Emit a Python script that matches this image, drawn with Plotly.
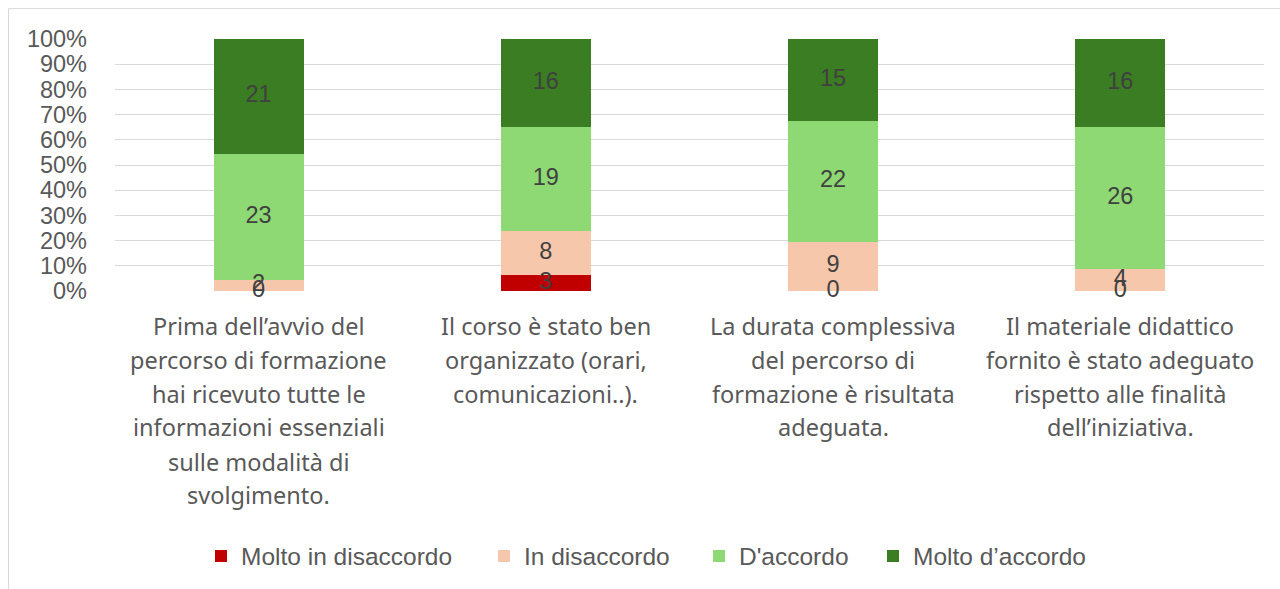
import numpy as np
import plotly.graph_objects as go

# Survey answers per question (counts of respondents)
categories = [
    "Prima dell’avvio del percorso di formazione hai ricevuto tutte le informazioni essenziali sulle modalità di svolgimento.",
    "Il corso è stato ben organizzato (orari, comunicazioni..).",
    "La durata complessiva del percorso di formazione è risultata adeguata.",
    "Il materiale didattico fornito è stato adeguato rispetto alle finalità dell’iniziativa.",
]
category_lines = [
    ["Prima dell’avvio del", "percorso di formazione", "hai ricevuto tutte le",
     "informazioni essenziali", "sulle modalità di", "svolgimento."],
    ["Il corso è stato ben", "organizzato (orari,", "comunicazioni..)."],
    ["La durata complessiva", "del percorso di", "formazione è risultata", "adeguata."],
    ["Il materiale didattico", "fornito è stato adeguato", "rispetto alle finalità",
     "dell’iniziativa."],
]
series_names = ["Molto in disaccordo", "In disaccordo", "D'accordo", "Molto d’accordo"]
molto_disaccordo = [0, 3, 0, 0]
disaccordo = [2, 8, 9, 4]
accordo = [23, 19, 22, 26]
molto_accordo = [21, 16, 15, 16]
y_ticks = list(range(0, 101, 10))
y_tick_labels = [f"{v}%" for v in y_ticks]

colors = ["#C00000", "#F7C7AC", "#8ED973", "#3A7D22"]
series = [molto_disaccordo, disaccordo, accordo, molto_accordo]

# Figure geometry (pixels)
W, H = 1280, 589
PL, PR, PT, PB = 115, 1264, 39, 292
plot_h = PB - PT
plot_w = PR - PL

def py(p):
    """pixel row -> paper y"""
    return (PB - p) / plot_h

def px(p):
    """pixel column -> paper x"""
    return (p - PL) / plot_w

fig = go.Figure()

legend_ids = ["legend", "legend2", "legend3", "legend4"]
for name, vals, col, lg in zip(series_names, series, colors, legend_ids):
    fig.add_trace(go.Bar(
        x=categories, y=vals, name=name, marker=dict(color=col, line=dict(width=0)),
        legend=lg, hoverinfo="x+y+name",
    ))

# Segment labels at the middle of each stacked segment
data = np.array(series, dtype=float)
totals = data.sum(axis=0)
pct = data / totals * 100
bottoms = np.cumsum(pct, axis=0) - pct
mids = bottoms + pct / 2
for i in range(len(series)):
    fig.add_trace(go.Scatter(
        x=categories, y=mids[i], mode="text",
        text=[str(v) for v in series[i]],
        textfont=dict(family="Liberation Sans, Arial, sans-serif", size=23.5, color="#404040"),
        showlegend=False, hoverinfo="skip", cliponaxis=False,
    ))

fig.update_layout(
    width=W, height=H,
    margin=dict(l=PL, r=W - PR, t=PT, b=H - PB),
    barmode="stack", barnorm="percent", bargap=0.687,
    plot_bgcolor="white", paper_bgcolor="white",
    showlegend=True,
    xaxis=dict(showticklabels=False, showgrid=False, zeroline=False, showline=False,
               ticks=""),
    yaxis=dict(range=[0, 100], tickmode="array", tickvals=y_ticks, ticktext=y_tick_labels,
               showgrid=True, gridcolor="#D9D9D9", gridwidth=1, zeroline=False,
               showline=False, ticks="", ticklabelstandoff=27,
               tickfont=dict(family="Liberation Sans, Arial, sans-serif", size=23.5,
                             color="#595959")),
)

# Category labels, one line per annotation for generous line spacing
line_rows = [327, 361, 395, 429, 464, 497]
for cat, lines in zip(categories, category_lines):
    for j, line in enumerate(lines):
        fig.add_annotation(
            x=cat, xref="x", y=py(line_rows[j]), yref="paper",
            text=line, showarrow=False, xanchor="center", yanchor="middle",
            font=dict(family="Noto Sans, Open Sans, sans-serif", size=23.5, color="#595959"),
        )

# One single-item legend per series, placed along the bottom
legend_font = dict(family="Liberation Sans Narrow, Liberation Sans, sans-serif",
                   size=24.5, color="#595959")
legend_x = [217, 500, 715, 889]
for lg, lx in zip(legend_ids, legend_x):
    fig.update_layout({lg: dict(
        orientation="h", x=px(lx - 16), xref="paper", xanchor="left",
        y=py(556), yref="paper", yanchor="middle",
        font=legend_font, bgcolor="rgba(0,0,0,0)", itemclick=False,
    )})

# Chart frame
fig.add_shape(type="rect", xref="paper", yref="paper",
              x0=px(8.5), x1=px(1300), y0=py(8.5), y1=py(620),
              line=dict(color="#D9D9D9", width=1), fillcolor="rgba(0,0,0,0)",
              layer="below")

fig.write_html("out.html")
